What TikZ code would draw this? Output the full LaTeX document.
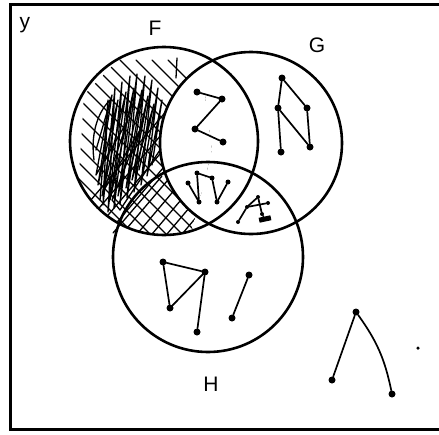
\documentclass[tikz,border=0pt]{standalone}
\usepackage{fontspec}
\setsansfont{Liberation Sans}
\begin{document}
\begin{tikzpicture}[x=1pt,y=-1pt,
  dot/.style={circle,fill=black,inner sep=0pt,minimum size=7pt},
  edge/.style={line width=1.7pt,line cap=round},
  ring/.style={line width=2.6pt},
  frameline/.style={line width=3.2pt},
  hatch/.style={line width=1.3pt,line cap=round,line join=round},
  lbl/.style={font=\sffamily\fontsize{21}{21}\selectfont,inner sep=0pt}]
\useasboundingbox (0,0) rectangle (439,434);
\fill[white] (0,0) rectangle (439,434);

% frame
\draw[frameline] (439,4.5) -- (10.5,4.5) -- (10.5,429.5) -- (439,429.5);

% hatching in F
\begin{scope}
  \clip (164,141) circle (94);
  \clip (84,95) -- (122,56) -- (200,56) -- (212,150) -- (190,238) -- (100,238) -- (78,190) -- cycle;
  \foreach \i in {0,...,13} {\draw[hatch] (40+15*\i,260) -- (40+15*\i+140,95);}
  \foreach \i in {0,...,13} {\draw[hatch] (-40+16*\i,60) -- (-40+16*\i+185,245);}
  \fill[white] (251,143) circle (91);
\end{scope}
% dense scribble
\draw[hatch] (100,200) -- (108,100) -- (103,205) -- (115,88) -- (108,212) -- (122,82) -- (114,208)
  -- (130,76) -- (120,204) -- (137,74) -- (127,198) -- (145,76) -- (134,192) -- (152,80)
  -- (141,185) -- (158,88) -- (147,176) -- (162,100) -- (152,165);
\draw[hatch] (96,150) -- (112,95) -- (98,185) -- (118,100) -- (102,196) -- (126,92) -- (110,200)
  -- (134,88) -- (118,196) -- (142,90) -- (126,188) -- (148,96) -- (132,180) -- (154,104)
  -- (139,170);
\draw[hatch] (94,160) .. controls (90,130) and (100,110) .. (110,100) -- (96,175) -- (128,120)
  -- (104,190) -- (140,130) -- (112,200) -- (120,210) -- (160,150);
\draw[hatch] (113,233) -- (162,176);
\draw[hatch] (177,58) -- (176,78);

% circles
\draw[ring] (164,141) circle (94);
\draw[ring] (251,143) circle (91);
\draw[ring] (208,257) circle (95);

% labels
\node[lbl] (ly) at (25,25) {y};
\node[lbl] (lf) at (155,28) {F};
\node[lbl] (lg) at (317,45) {G};
\node[lbl] (lh) at (211,384) {H};

% Z in F and G
\node[dot] (z1) at (197,92) {};
\node[dot] (z2) at (222,99) {};
\node[dot] (z3) at (195,129) {};
\node[dot] (z4) at (223,142) {};
\draw[edge] (z1) -- (z2) -- (z3) -- (z4);

% G only
\node[dot] (g1) at (282,78) {};
\node[dot] (g2) at (278,108) {};
\node[dot] (g3) at (307,108) {};
\node[dot] (g4) at (281,152) {};
\node[dot] (g5) at (310,147) {};
\draw[edge] (g1) -- (g2) -- (g4);
\draw[edge] (g1) -- (g3) -- (g5);
\draw[edge] (g2) -- (g5);

% centre F, G and H
\node[dot,minimum size=5pt] (c1) at (188,183) {};
\node[dot,minimum size=5pt] (c2) at (199,202) {};
\node[dot,minimum size=5pt] (c3) at (197,173) {};
\node[dot,minimum size=5pt] (c4) at (212,178) {};
\node[dot,minimum size=5pt] (c5) at (217,202) {};
\node[dot,minimum size=5pt] (c6) at (228,182) {};
\draw[edge] (c1) -- (c2) -- (c3) -- (c4) -- (c5) -- (c6);

% G and H
\node[dot,minimum size=4pt] (a1) at (258,197) {};
\node[dot,minimum size=4pt] (a2) at (247,207) {};
\node[dot,minimum size=4pt] (a3) at (238,222) {};
\node[dot,minimum size=4pt] (a4) at (268,203) {};
\node[dot,minimum size=4pt] (a5) at (262,214) {};
\node[fill=black,minimum width=12pt,minimum height=5pt,inner sep=0pt,rotate=12] (a6) at (265,219) {};
\draw[edge] (a1) -- (a2) -- (a3);
\draw[edge] (a1) -- (a5) -- (a6);
\draw[edge] (a2) -- (a4);

% H only
\node[dot] (h1) at (163,262) {};
\node[dot] (h2) at (205,272) {};
\node[dot] (h3) at (170,308) {};
\node[dot] (h4) at (197,332) {};
\node[dot] (h5) at (249,275) {};
\node[dot] (h6) at (232,318) {};
\draw[edge] (h1) -- (h2) -- (h3) -- (h1);
\draw[edge] (h2) -- (h4);
\draw[edge] (h5) -- (h6);

% outside
\node[dot] (o1) at (356,312) {};
\node[dot] (o2) at (332,380) {};
\node[dot] (o3) at (392,394) {};
\node[dot,minimum size=3.5pt] (o4) at (418,348) {};
\draw[edge] (o1) -- (o2);
\draw[edge] (o1) to[bend left=12] (o3);
\end{tikzpicture}
\end{document}
